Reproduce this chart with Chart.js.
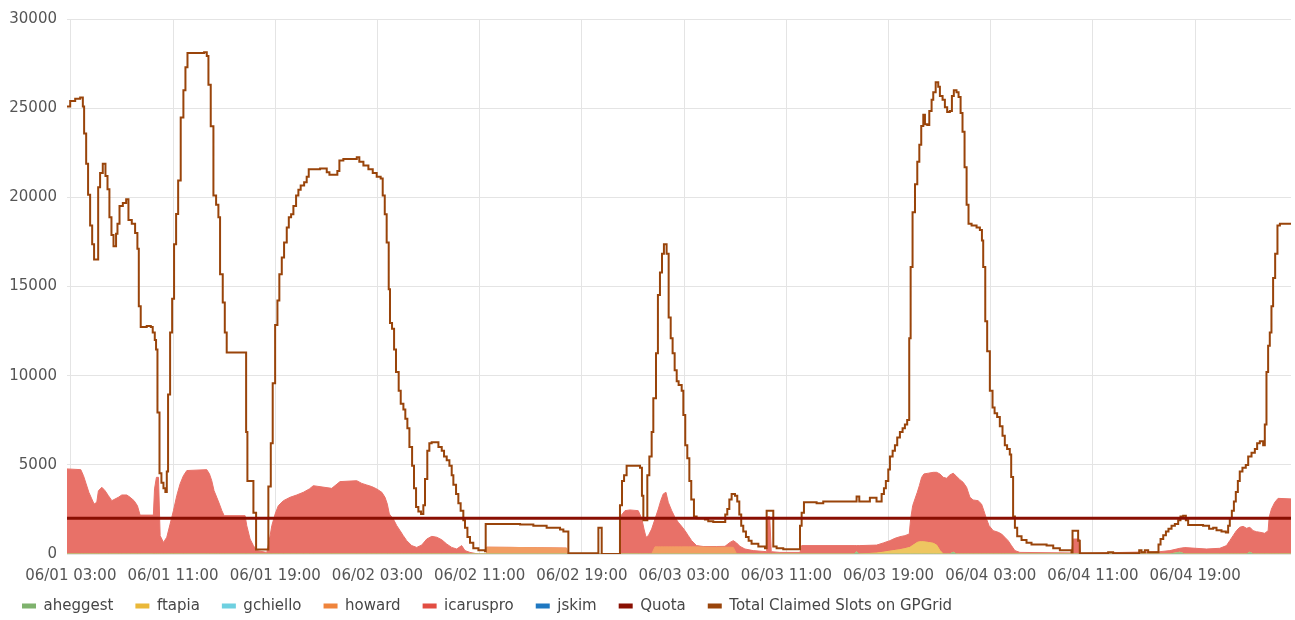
<!DOCTYPE html>
<html>
<head>
<meta charset="utf-8">
<script src="https://cdn.jsdelivr.net/npm/chart.js@4/dist/chart.umd.min.js"></script>
<style>
  html, body { margin: 0; padding: 0; background: #fff; }
  #wrap { width: 1295px; height: 620px; }
</style>
</head>
<body>
<div id="wrap"><canvas id="slotsChart"></canvas></div>
<script>
// x values are hours since 06/01 00:00
const tickHours = [3, 11, 19, 27, 35, 43, 51, 59, 67, 75, 83, 91];
const tickLabels = ["06/01 03:00", "06/01 11:00", "06/01 19:00", "06/02 03:00", "06/02 11:00", "06/02 19:00",
  "06/03 03:00", "06/03 11:00", "06/03 19:00", "06/04 03:00", "06/04 11:00", "06/04 19:00"];

// Total Claimed Slots on GPGrid (step line)
const totalHours = [2.7, 2.95, 3.34, 3.73, 3.94, 4.04, 4.2, 4.35, 4.51, 4.67, 4.82, 5.14, 5.29, 5.5, 5.71, 5.87, 6.02, 6.18, 6.34, 6.54,
  6.65, 6.81, 7.07, 7.33, 7.51, 7.77, 8.03, 8.21, 8.32, 8.47, 8.94, 9.26, 9.41, 9.57, 9.67, 9.78, 9.94, 10.09, 10.25, 10.4,
  10.51, 10.61, 10.77, 10.93, 11.08, 11.24, 11.4, 11.6, 11.81, 11.97, 12.13, 13.43, 13.64, 13.77, 13.95, 14.16, 14.37, 14.55, 14.68, 14.89,
  15.05, 15.2, 16.72, 16.82, 17.29, 17.5, 18.46, 18.65, 18.8, 18.99, 19.17, 19.32, 19.51, 19.69, 19.9, 20.06, 20.24, 20.42, 20.63, 20.81,
  20.99, 21.26, 21.46, 21.62, 22.51, 23.03, 23.24, 23.86, 24.02, 24.33, 25.38, 25.58, 25.9, 26.29, 26.63, 26.94, 27.25, 27.41, 27.57, 27.72,
  27.88, 27.98, 28.14, 28.3, 28.45, 28.66, 28.82, 29.03, 29.18, 29.34, 29.5, 29.71, 29.86, 30.02, 30.2, 30.41, 30.59, 30.72, 30.9, 31.06,
  31.24, 31.77, 32.03, 32.21, 32.42, 32.63, 32.81, 32.94, 33.15, 33.33, 33.51, 33.72, 33.85, 34.04, 34.24, 34.5, 34.9, 35.42, 35.47, 38.16,
  39.2, 40.24, 41.29, 41.55, 41.94, 44.16, 44.29, 44.55, 45.98, 46.14, 46.3, 46.5, 47.55, 47.7, 47.81, 48.12, 48.28, 48.46, 48.59, 48.8,
  48.95, 49.11, 49.27, 49.42, 49.63, 49.79, 49.95, 50.1, 50.26, 50.42, 50.57, 50.81, 50.94, 51.09, 51.25, 51.41, 51.56, 51.77, 51.98, 52.63,
  52.89, 53.28, 54.22, 54.38, 54.54, 54.72, 54.98, 55.16, 55.32, 55.47, 55.63, 55.84, 56.05, 56.28, 56.81, 57.33, 57.46, 57.98, 58.24, 58.76,
  60.07, 60.2, 60.38, 61.37, 61.89, 64.5, 64.71, 65.54, 66.06, 66.46, 66.64, 66.79, 66.98, 67.11, 67.32, 67.5, 67.68, 67.89, 68.1, 68.28,
  68.46, 68.62, 68.73, 68.88, 69.07, 69.25, 69.41, 69.56, 69.72, 69.85, 70.03, 70.19, 70.37, 70.5, 70.69, 70.89, 71.02, 71.23, 71.41, 71.59,
  71.8, 71.96, 72.11, 72.32, 72.48, 72.64, 72.79, 72.95, 73.11, 73.26, 73.5, 73.89, 74.15, 74.31, 74.41, 74.57, 74.72, 74.93, 75.14, 75.3,
  75.5, 75.71, 75.92, 76.1, 76.28, 76.49, 76.6, 76.75, 76.89, 77.07, 77.41, 77.8, 78.19, 79.37, 79.89, 80.41, 81.32, 81.4, 81.84, 81.97,
  84.19, 84.58, 86.62, 86.8, 87.06, 87.32, 88.13, 88.29, 88.5, 88.71, 88.91, 89.15, 89.41, 89.67, 89.85, 90.06, 90.27, 90.45, 91.62, 92.09,
  92.41, 92.67, 93.06, 93.4, 93.58, 93.71, 93.87, 94.03, 94.18, 94.34, 94.49, 94.7, 94.96, 95.15, 95.41, 95.67, 95.85, 96.06, 96.32, 96.45,
  96.58, 96.71, 96.84, 96.97, 97.1, 97.26, 97.44, 97.63, 98.47];
const totalSlots = [25090, 25400, 25530, 25600, 25100, 23580, 21890, 20150, 18420, 17370, 16520, 20570, 21370, 21890, 21200, 20460, 18880, 17890, 17260, 17960,
  18520, 19510, 19680, 19890, 18730, 18520, 18000, 17110, 13890, 12730, 12780, 12730, 12420, 12000, 11470, 7940, 4530, 4000, 3680, 3470,
  4630, 8950, 12420, 14310, 17370, 19060, 20950, 24480, 26000, 27300, 28100, 28140, 27930, 26310, 23990, 20100, 19580, 18880, 15680, 14100,
  12420, 11300, 6840, 4100, 2320, 250, 3790, 6210, 9580, 12840, 14210, 15680, 16630, 17470, 18310, 18880, 19050, 19510, 20100, 20420,
  20670, 20840, 21150, 21580, 21620, 21410, 21260, 21470, 22060, 22150, 22250, 22000, 21790, 21580, 21370, 21150, 21050, 20100, 19050, 17470,
  14840, 12950, 12630, 11470, 10210, 9160, 8420, 8100, 7580, 7050, 6000, 4950, 3680, 2630, 2380, 2250, 2740, 4210, 5790, 6210,
  6260, 6000, 5790, 5470, 5260, 4950, 4420, 3890, 3370, 2840, 2420, 1890, 1470, 950, 630, 320, 210, 150, 1680, 1660,
  1580, 1470, 1370, 1260, 40, 0, 1470, 0, 2740, 4100, 4420, 4950, 4840, 3260, 1890, 4420, 5470, 6840, 8740, 11260,
  14520, 15790, 16840, 17370, 16840, 13260, 12100, 11260, 10310, 9680, 9470, 9160, 7790, 6100, 5370, 4100, 3050, 2100, 2000, 1940,
  1830, 1790, 2210, 2530, 3050, 3370, 3260, 2950, 2210, 1580, 1260, 950, 740, 570, 420, 320, 2420, 420, 320, 270,
  1580, 2320, 2900, 2840, 2950, 3220, 2950, 3160, 2950, 3370, 3680, 4100, 4740, 5470, 5790, 6100, 6530, 6840, 7050, 7260,
  7510, 12100, 16100, 19160, 20730, 22000, 22950, 24000, 24630, 24100, 24060, 24840, 25470, 25890, 26460, 26200, 25680, 25470, 25050, 24780,
  24840, 25680, 26000, 25890, 25620, 24730, 23680, 21680, 19580, 18520, 18420, 18310, 18170, 17580, 16100, 13050, 11370, 9160, 8210, 7890,
  7680, 7160, 6630, 6100, 5890, 5580, 4320, 2100, 1470, 990, 780, 630, 530, 480, 320, 210, 105, 1300, 740, 40,
  105, 40, 210, 105, 210, 105, 530, 840, 1050, 1260, 1410, 1580, 1680, 1890, 2100, 2150, 1890, 1620, 1580, 1410,
  1470, 1330, 1260, 1200, 1580, 2000, 2420, 2950, 3470, 4100, 4630, 4840, 4990, 5470, 5680, 5890, 6210, 6320, 6100, 7260,
  10210, 11680, 12420, 13890, 15470, 16840, 18420, 18520, 18460];

// Quota
const quotaHours = [2.7, 98.5];
const quota = [2000, 2000];

// stacked user series share these hours
const areaHours = [2.7, 3.78, 3.99, 4.2, 4.41, 4.64, 4.82, 5.03, 5.16, 5.43, 5.68, 5.94, 6.21, 6.72, 6.99, 7.38, 7.64, 7.95, 8.21, 8.42,
  9.46, 9.55, 9.7, 9.86, 9.99, 10.25, 10.51, 10.77, 11.03, 11.29, 11.55, 11.81, 12.08, 13.64, 13.85, 14.03, 14.21, 14.42, 14.63, 14.82,
  15, 16.64, 16.77, 17.03, 17.29, 17.55, 18.34, 18.59, 18.73, 18.99, 19.24, 19.64, 20.16, 20.68, 21.2, 21.67, 21.98, 23.42, 24.07, 25.38,
  25.77, 26.16, 26.55, 26.94, 27.34, 27.59, 27.77, 27.93, 28.24, 28.51, 28.77, 29.02, 29.29, 29.68, 30.07, 30.46, 30.86, 31.25, 31.64, 32.03,
  32.42, 32.81, 33.2, 33.59, 33.85, 34.24, 34.89, 35.5, 35.55, 37.5, 39.5, 41.8, 41.85, 45.95, 46.06, 46.37, 46.76, 47.41, 47.68, 47.86,
  48.02, 48.2, 48.46, 48.72, 48.98, 49.17, 49.37, 49.58, 49.76, 50.03, 50.28, 50.54, 50.81, 51.07, 51.33, 51.59, 51.98, 52.5, 53.55, 54.2,
  54.59, 54.85, 55.11, 55.37, 55.76, 56.41, 57.46, 57.55, 57.7, 57.82, 58.5, 60.07, 60.2, 64.3, 64.5, 64.7, 66.07, 66.59, 67.11, 67.5,
  67.89, 68.28, 68.62, 68.73, 68.89, 69.07, 69.25, 69.41, 69.59, 69.77, 70.11, 70.5, 70.76, 71.02, 71.28, 71.54, 71.8, 72.06, 72.32, 72.58,
  72.84, 73.11, 73.37, 73.62, 74.01, 74.28, 74.46, 74.67, 74.87, 75.19, 75.58, 75.85, 76.1, 76.36, 76.62, 76.89, 77.28, 81.32, 81.45, 81.92,
  82.03, 88.23, 89.02, 89.8, 90.19, 91.89, 92.93, 93.45, 93.71, 93.97, 94.23, 94.49, 94.75, 95.02, 95.28, 95.54, 95.8, 96.06, 96.45, 96.71,
  96.79, 96.97, 97.23, 97.49, 98.5];
const icaruspro = [4770, 4730, 4390, 3930, 3460, 3090, 2800, 2900, 3550, 3740, 3550, 3270, 2990, 3180, 3310, 3310, 3180, 2990, 2710, 2180,
  2180, 3650, 4300, 4300, 1030, 650, 940, 1680, 2430, 3270, 3930, 4390, 4680, 4730, 4490, 4110, 3550, 3180, 2800, 2430,
  2150, 2150, 1590, 840, 470, 190, 90, 1000, 1590, 2240, 2710, 2990, 3180, 3310, 3460, 3650, 3830, 3680, 4060, 4110,
  3960, 3870, 3780, 3650, 3460, 3180, 2800, 2240, 1960, 1590, 1310, 1030, 750, 470, 370, 500, 840, 990, 940, 800,
  560, 370, 280, 470, 190, 90, 0, 0, 0, 0, 0, 0, 0, 0, 2150, 2430, 2470, 2430, 2000, 1400,
  940, 1030, 1400, 1560, 2120, 2590, 2970, 3060, 2500, 2030, 1660, 1380, 1150, 910, 630, 350, 70, 30, 40, 50,
  270, 380, 620, 430, 280, 190, 130, 2100, 2100, 130, 90, 90, 470, 470, 350, 470, 450, 520, 590, 680,
  730, 730, 760, 1560, 2230, 2530, 2810, 3150, 3610, 3810, 3880, 3980, 4080, 4290, 4300, 4250, 4430, 4430, 4360, 4170,
  4020, 3740, 3180, 3030, 2990, 2800, 2430, 1960, 1590, 1310, 1220, 1120, 940, 750, 470, 190, 90, 60, 840, 840,
  40, 130, 190, 220, 360, 280, 320, 470, 750, 1030, 1310, 1500, 1550, 1440, 1400, 1310, 1250, 1220, 1160, 1310,
  2060, 2520, 2900, 3120, 3090];

// smaller users, zero at every other areaHours entry
const howardHours = [35.55, 37.5, 39.5, 41.8, 48.72, 48.98, 49.17, 49.37, 49.58, 49.76, 50.03, 50.28, 50.54, 50.81, 51.07, 51.33, 51.59, 51.98, 52.5, 53.55, 54.2, 54.59, 54.85];
const howard = [380, 370, 350, 330, 400, 400, 400, 400, 400, 400, 400, 400, 400, 400, 400, 400, 400, 400, 390, 380, 380, 380, 370];
const ftapiaHours = [66.07, 66.59, 67.11, 67.5, 67.89, 68.28, 68.62, 68.73, 68.89, 69.07, 69.25, 69.41, 69.59, 69.77, 70.11, 70.5, 70.76, 71.02];
const ftapia = [50, 100, 160, 200, 240, 300, 360, 400, 480, 560, 650, 680, 690, 680, 650, 600, 500, 200];
const aheggestHours = [64.5, 72.06, 89.8, 95.28];
const aheggest = [120, 100, 100, 100];

const seriesNames = ["aheggest", "ftapia", "gchiello", "howard", "icaruspro", "jskim", "Quota", "Total Claimed Slots on GPGrid"];
const seriesColors = ["#7EB26D", "#EAB839", "#6ED0E0", "#EF843C", "#E24D42", "#1F78C1", "#890F02", "#99440A"];
// fill colours = series colour at 80% over white
const fillColors = ["#98C18A", "#EEC661", "#8BD9E6", "#F29D63", "#E87168", "#4C93CD"];

const font = { family: "DejaVu Sans", size: 15 };

function onAreaHours(hours, values) {
  return areaHours.map((h) => {
    const i = hours.indexOf(h);
    return { x: h, y: i >= 0 ? values[i] : 0 };
  });
}

const areaData = [
  onAreaHours(aheggestHours, aheggest),
  onAreaHours(ftapiaHours, ftapia),
  [],
  onAreaHours(howardHours, howard),
  areaHours.map((h, i) => ({ x: h, y: icaruspro[i] })),
  [],
];

const datasets = areaData.map((pts, i) => ({
  label: seriesNames[i],
  data: pts,
  stack: "users",
  order: 1,
  fill: "origin",
  backgroundColor: fillColors[i],
  borderColor: fillColors[i],
  borderWidth: 1,
  pointRadius: 0,
  tension: 0,
}));

datasets.push({
  label: seriesNames[6],
  data: quotaHours.map((h, i) => ({ x: h, y: quota[i] })),
  stack: "quota",
  order: 0,
  fill: false,
  borderColor: seriesColors[6],
  backgroundColor: seriesColors[6],
  borderWidth: 3,
  pointRadius: 0,
});
datasets.push({
  label: seriesNames[7],
  data: totalHours.map((h, i) => ({ x: h, y: totalSlots[i] })),
  stack: "total",
  order: 0,
  fill: false,
  // each value holds until the next sample
  stepped: "before",
  borderColor: seriesColors[7],
  backgroundColor: seriesColors[7],
  borderWidth: 2,
  pointRadius: 0,
});

const ctx = document.getElementById("slotsChart").getContext("2d");
const slotsChart = new Chart(ctx, {
  type: "line",
  data: { datasets: datasets },
  options: {
    responsive: true,
    maintainAspectRatio: false,
    animation: false,
    layout: { padding: { left: 0, right: 4, top: 12, bottom: -3.5 } },
    plugins: {
      tooltip: { enabled: false },
      legend: {
        position: "bottom",
        align: "start",
        labels: {
          boxWidth: 14,
          boxHeight: 5,
          padding: 22,
          color: "#464646",
          font: font,
          generateLabels: (chart) =>
            Chart.defaults.plugins.legend.labels.generateLabels(chart).map((item) => ({
              ...item,
              fillStyle: seriesColors[item.datasetIndex],
              strokeStyle: seriesColors[item.datasetIndex],
              lineWidth: 0,
            })),
          sort: (a, b) => a.datasetIndex - b.datasetIndex,
        },
      },
    },
    scales: {
      x: {
        type: "linear",
        min: 2.7,
        max: 98.5,
        afterBuildTicks: (scale) => {
          scale.ticks = tickHours.map((v) => ({ value: v }));
        },
        afterFit: (scale) => {
          // keep the axis box short so the legend sits close, and
          // don't clip the labels to that short box
          scale.height = 22.5;
          scale._computeLabelArea = () => undefined;
        },
        ticks: {
          autoSkip: false,
          maxRotation: 0,
          padding: 13,
          color: "#555",
          font: font,
          callback: (value) => tickLabels[tickHours.indexOf(value)],
        },
        grid: { color: "#e4e4e4", drawTicks: false },
        border: { display: false },
      },
      y: {
        stacked: true,
        min: 0,
        max: 30000,
        afterFit: (scale) => {
          scale.width = 67;
        },
        ticks: {
          stepSize: 5000,
          padding: 10,
          color: "#555",
          font: font,
          callback: (value) => String(value),
        },
        grid: { color: "#e4e4e4", drawTicks: false },
        border: { display: false },
      },
    },
  },
});
</script>
</body>
</html>
